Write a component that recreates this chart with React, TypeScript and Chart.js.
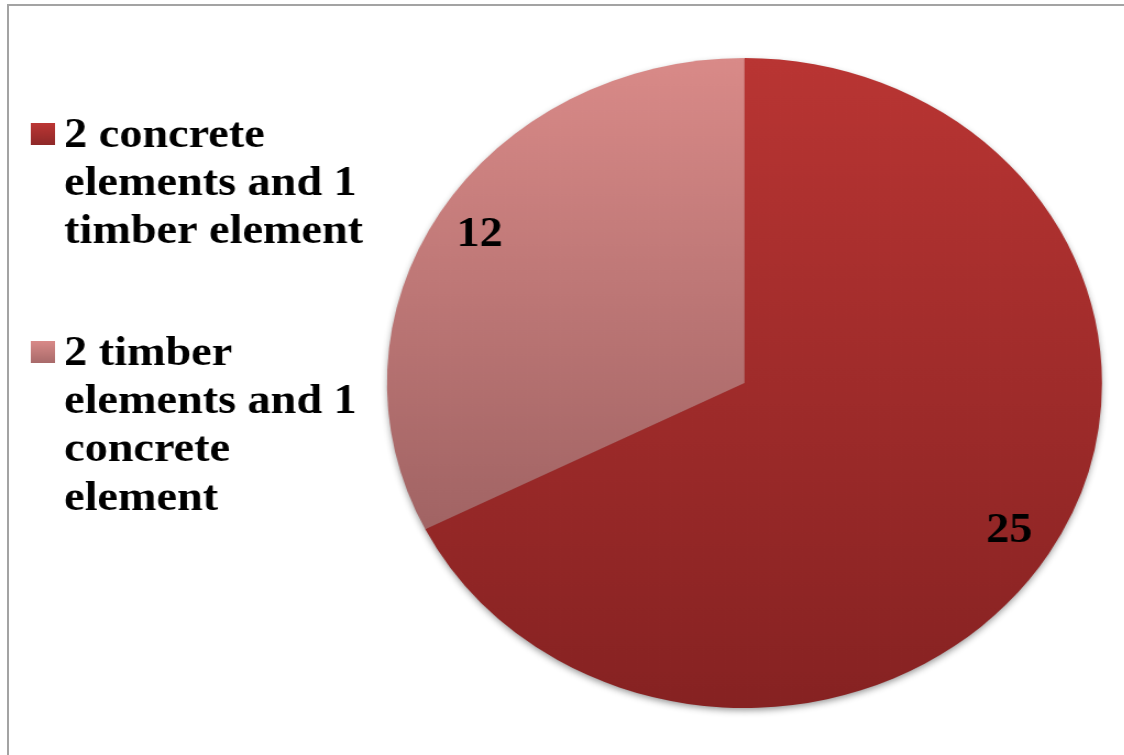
import React, { useEffect, useRef } from "react";
import { Chart, registerables } from "chart.js";

Chart.register(...registerables);

// ---- data ----
const categories = [
  "2 concrete elements and 1 timber element",
  "2 timber elements and 1 concrete element",
];
const values = [25, 12];
const sliceTopColors = ["#B93533", "#D98A88"];
const sliceBottomColors = ["#862222", "#8C5556"];
const legendTopColors = ["#BC3634", "#D98A88"];
const legendBottomColors = ["#8E2828", "#A86A6A"];

// ---- layout / style ----
const STRETCH_X = 1.1;
const CANVAS_W = 1022;
const CANVAS_H = 755;
const PIE_RADIUS = 325;
const FONT_FAMILY = '"Liberation Serif", "Times New Roman", Times, serif';
const FONT = `bold 42px ${FONT_FAMILY}`;
const LINE_H = 48.2;
const LEGEND_BOX_X = 28;
const LEGEND_BOX = 22;
const LEGEND_TEXT_X = 58.3;
const LEGEND_FIRST_BASELINE = 147;
const LEGEND_ITEM_GAP = 73.4;
const LEGEND_WRAP = 285;
const LABEL_RADIUS_RATIO = 0.87;

function wrapText(ctx: CanvasRenderingContext2D, text: string, maxW: number): string[] {
  const words = text.split(" ");
  const lines: string[] = [];
  let cur = "";
  for (const w of words) {
    const test = cur ? cur + " " + w : w;
    if (cur && ctx.measureText(test).width > maxW) {
      lines.push(cur);
      cur = w;
    } else {
      cur = test;
    }
  }
  if (cur) lines.push(cur);
  return lines;
}

const shadowPlugin = {
  id: "pieShadow",
  beforeDatasetsDraw(chart: any) {
    const arc = chart.getDatasetMeta(0).data[0];
    if (!arc) return;
    const { x, y, outerRadius } = arc.getProps(["x", "y", "outerRadius"], true);
    const ctx = chart.ctx;
    ctx.save();
    ctx.shadowColor = "rgba(0,0,0,0.45)";
    ctx.shadowBlur = 7;
    ctx.shadowOffsetX = 0;
    ctx.shadowOffsetY = 3;
    ctx.fillStyle = "#8a2424";
    ctx.beginPath();
    ctx.arc(x, y, outerRadius - 1, 0, Math.PI * 2);
    ctx.fill();
    ctx.restore();
  },
};

const valueLabelPlugin = {
  id: "valueLabels",
  afterDatasetsDraw(chart: any) {
    const ctx = chart.ctx;
    const meta = chart.getDatasetMeta(0);
    const data = chart.data.datasets[0].data as number[];
    ctx.save();
    ctx.font = FONT;
    ctx.fillStyle = "#000000";
    ctx.textAlign = "center";
    ctx.textBaseline = "middle";
    meta.data.forEach((el: any, i: number) => {
      const { x, y, startAngle, endAngle, outerRadius } = el.getProps(
        ["x", "y", "startAngle", "endAngle", "outerRadius"],
        true
      );
      const mid = (startAngle + endAngle) / 2;
      const r = outerRadius * LABEL_RADIUS_RATIO;
      ctx.fillText(String(data[i]), x + Math.cos(mid) * r, y + Math.sin(mid) * r);
    });
    ctx.restore();
  },
};

const legendPlugin = {
  id: "sideLegend",
  afterDraw(chart: any) {
    const ctx = chart.ctx;
    const labels = chart.data.labels as string[];
    ctx.save();
    ctx.font = FONT;
    ctx.textAlign = "left";
    ctx.textBaseline = "alphabetic";
    let baseline = LEGEND_FIRST_BASELINE;
    labels.forEach((label, i) => {
      const lines = wrapText(ctx, label, LEGEND_WRAP);
      const boxTop = baseline - 24;
      const g = ctx.createLinearGradient(0, boxTop, 0, boxTop + LEGEND_BOX);
      g.addColorStop(0, legendTopColors[i]);
      g.addColorStop(1, legendBottomColors[i]);
      ctx.fillStyle = g;
      ctx.fillRect(LEGEND_BOX_X, boxTop, LEGEND_BOX, LEGEND_BOX);
      ctx.fillStyle = "#000000";
      lines.forEach((ln, k) => {
        ctx.fillText(ln, LEGEND_TEXT_X, baseline + k * LINE_H);
      });
      baseline += lines.length * LINE_H + LEGEND_ITEM_GAP;
    });
    ctx.restore();
  },
};

export default function App() {
  const canvasRef = useRef<HTMLCanvasElement | null>(null);

  useEffect(() => {
    if (!canvasRef.current) return;
    const chart = new Chart(canvasRef.current, {
      type: "pie",
      data: {
        labels: categories,
        datasets: [
          {
            data: values,
            borderWidth: 0,
            backgroundColor: (c: any) => {
              const area = c.chart.chartArea;
              const i = c.dataIndex ?? 0;
              if (!area) return sliceTopColors[i];
              const cy = (area.top + area.bottom) / 2;
              const g = c.chart.ctx.createLinearGradient(0, cy - PIE_RADIUS, 0, cy + PIE_RADIUS);
              g.addColorStop(0, sliceTopColors[i]);
              g.addColorStop(1, sliceBottomColors[i]);
              return g;
            },
          },
        ],
      },
      options: {
        responsive: false,
        animation: false,
        radius: PIE_RADIUS,
        layout: { padding: { left: 338, right: 6.4, top: 20, bottom: 9 } },
        plugins: {
          legend: { display: false },
          tooltip: { enabled: false },
          title: { display: false },
        },
      } as any,
      plugins: [shadowPlugin, valueLabelPlugin, legendPlugin],
    });
    return () => chart.destroy();
  }, []);

  return (
    <div>
      <div
        style={{
          position: "fixed",
          left: 7,
          top: 4,
          width: 2000,
          height: 2000,
          borderLeft: "2px solid #a3a3a3",
          borderTop: "2px solid #a3a3a3",
          boxSizing: "border-box",
        }}
      />
      <div
        style={{
          position: "fixed",
          left: 0,
          top: 0,
          width: CANVAS_W,
          height: CANVAS_H,
          transform: `scaleX(${STRETCH_X})`,
          transformOrigin: "0 0",
        }}
      >
        <canvas ref={canvasRef} width={CANVAS_W} height={CANVAS_H} style={{ display: "block" }} />
      </div>
    </div>
  );
}
